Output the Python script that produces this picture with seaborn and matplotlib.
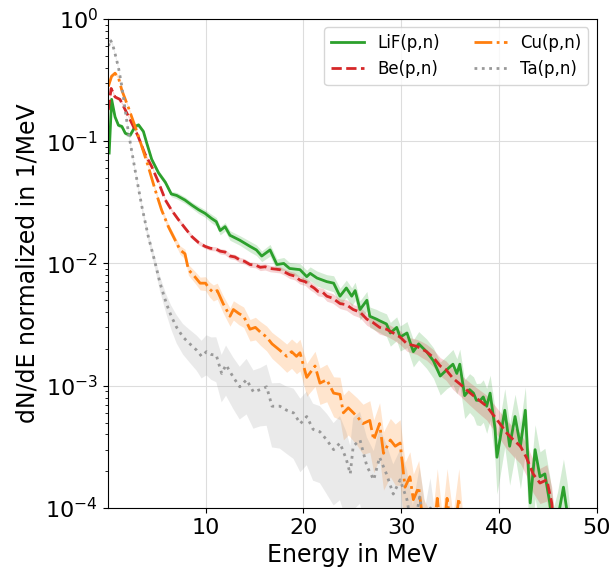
import numpy as np
import pandas as pd
import matplotlib
matplotlib.use("Agg")
import matplotlib.pyplot as plt
import seaborn as sns

# ---------------- data ----------------
lif_e = [0.15, 0.4, 0.75, 1.1, 1.45, 1.8, 2.3, 2.8, 3.15, 3.65, 4.0, 4.5, 5.2, 5.9, 6.5, 7.05,
         7.9, 8.6, 9.3, 9.95, 10.6, 11.1, 11.5, 12.0, 12.5, 13.5, 14.55, 15.2, 15.75, 16.6,
         17.3, 18.0, 18.6, 19.66, 20.35, 20.7, 21.4, 22.4, 23.1, 23.75, 24.4, 24.95, 25.3,
         25.8, 26.5, 26.8, 27.5, 27.8, 28.5, 28.9, 29.55, 29.9, 30.6, 31.25, 31.8, 32.6,
         33.3, 34.0, 34.66, 35.3, 35.7, 36.0, 36.5, 37.0, 37.4, 37.7, 38.1, 38.4, 38.75,
         39.1, 39.6, 39.8, 40.1, 40.6, 41.1, 41.65, 42.2, 42.7, 43.2, 43.7, 44.2, 44.7,
         45.2, 45.6, 46.0, 46.6, 47.0, 47.3]
lif_y = [0.08, 0.22, 0.158, 0.135, 0.132, 0.116, 0.112, 0.132, 0.136, 0.12, 0.096, 0.071,
         0.055, 0.046, 0.037, 0.036, 0.033, 0.030, 0.0275, 0.0257, 0.0234, 0.022, 0.0186,
         0.020, 0.017, 0.0155, 0.0138, 0.0129, 0.0115, 0.0129, 0.0098, 0.010, 0.0091, 0.0089,
         0.0078, 0.0083, 0.0076, 0.0071, 0.0069, 0.0054, 0.0063, 0.0054, 0.0060, 0.0042,
         0.0050, 0.0037, 0.0035, 0.0034, 0.0032, 0.0027, 0.0030, 0.0025, 0.0027, 0.0019,
         0.0022, 0.0019, 0.0016, 0.0012, 0.00135, 0.0015, 0.00126, 0.0015, 0.00083, 0.00093,
         0.00087, 0.00076, 0.00076, 0.00081, 0.00068, 0.00087, 0.00045, 0.00026, 0.00036,
         0.00063, 0.00032, 0.00056, 0.00032, 0.00063, 0.00011, 0.0003, 0.00018, 0.00019,
         0.00011, 0.00006, 0.00008, 0.000148, 0.00009, 0.00005]
lif_err = [0.05, 0.04, 0.04, 0.04, 0.04, 0.04, 0.04, 0.04, 0.04, 0.04, 0.04, 0.04,
           0.05, 0.05, 0.05, 0.06, 0.06, 0.06, 0.07, 0.07, 0.08, 0.08, 0.08, 0.08, 0.09,
           0.09, 0.10, 0.10, 0.10, 0.11, 0.11, 0.12, 0.12, 0.12, 0.13, 0.13, 0.14, 0.14,
           0.15, 0.16, 0.16, 0.17, 0.17, 0.18, 0.18, 0.19, 0.20, 0.20, 0.21, 0.22, 0.22,
           0.23, 0.24, 0.25, 0.26, 0.27, 0.28, 0.30, 0.30, 0.32, 0.32, 0.33, 0.35, 0.35,
           0.36, 0.37, 0.38, 0.38, 0.40, 0.40, 0.45, 0.50, 0.50, 0.50, 0.52, 0.52, 0.55,
           0.55, 0.60, 0.60, 0.60, 0.62, 0.65, 0.70, 0.70, 0.70, 0.75, 0.75]

be_e = [0.06, 0.35, 0.75, 1.25, 1.8, 2.45, 3.1, 3.8, 4.5, 5.2, 5.9, 6.5, 7.2, 7.9, 8.6, 9.3,
        9.95, 10.5, 11.0, 11.5, 12.0, 12.5, 13.0, 13.5, 14.0, 14.55, 15.1, 15.6, 16.1, 16.6,
        17.1, 17.6, 18.1, 18.6, 19.1, 19.66, 20.2, 20.7, 21.1, 21.5, 22.0, 22.4, 23.0, 23.75,
        24.4, 25.1, 25.8, 26.5, 27.1, 27.8, 28.5, 29.2, 29.9, 30.6, 31.1, 31.6, 32.1, 32.6,
        33.3, 34.0, 34.6, 35.3, 36.1, 37.0, 37.8, 38.75, 39.4, 40.1, 40.8, 41.5, 42.2, 42.8,
        43.5, 44.2, 44.9, 45.4, 45.8]
be_y = [0.18, 0.27, 0.23, 0.22, 0.18, 0.141, 0.11, 0.079, 0.062, 0.046, 0.033, 0.0275,
        0.023, 0.0195, 0.0166, 0.0148, 0.0138, 0.0133, 0.0132, 0.0126, 0.0124, 0.0115,
        0.0113, 0.0107, 0.0104, 0.0098, 0.0097, 0.0093, 0.0094, 0.0091, 0.0090, 0.0089,
        0.0085, 0.0081, 0.0079, 0.0073, 0.0071, 0.0066, 0.0063, 0.0059, 0.0058, 0.0054,
        0.0052, 0.0047, 0.0046, 0.0042, 0.0040, 0.0035, 0.0033, 0.0030, 0.0029, 0.0027,
        0.0025, 0.0022, 0.00215, 0.0021, 0.0020, 0.0019, 0.0017, 0.00145, 0.00135, 0.00115,
        0.00102, 0.00088, 0.00078, 0.00068, 0.00058, 0.00049, 0.00041, 0.00036, 0.00032,
        0.00026, 0.00019, 0.00016, 0.00017, 0.00011, 0.00005]
be_err = [0.04, 0.03, 0.03, 0.03, 0.03, 0.03, 0.03, 0.03, 0.03, 0.03, 0.03, 0.03, 0.04,
          0.04, 0.04, 0.04, 0.04, 0.04, 0.04, 0.05, 0.05, 0.05, 0.05, 0.05, 0.05, 0.05,
          0.05, 0.06, 0.06, 0.06, 0.06, 0.06, 0.06, 0.07, 0.07, 0.07, 0.07, 0.08, 0.08,
          0.08, 0.08, 0.09, 0.09, 0.09, 0.10, 0.10, 0.10, 0.11, 0.11, 0.12, 0.12, 0.12,
          0.13, 0.13, 0.14, 0.14, 0.15, 0.15, 0.16, 0.17, 0.18, 0.19, 0.20, 0.21, 0.22,
          0.23, 0.24, 0.25, 0.26, 0.27, 0.28, 0.29, 0.30, 0.32, 0.33, 0.35, 0.40]

cu_e = [0.06, 0.4, 0.75, 1.1, 1.45, 2.1, 2.8, 3.5, 4.15, 4.85, 5.5, 6.2, 6.9, 7.4, 7.9,
        8.25, 8.9, 9.45, 10.0, 10.4, 10.8, 11.2, 11.8, 12.5, 12.85, 13.4, 13.9, 14.55,
        15.1, 15.6, 16.25, 16.8, 17.6, 18.3, 18.8, 19.3, 19.66, 20.35, 21.2, 21.7, 22.4,
        23.1, 23.75, 24.1, 24.6, 25.5, 26.1, 26.8, 27.2, 27.8, 28.2, 28.9, 29.4, 29.9,
        30.4, 30.9, 31.25, 31.8, 32.3, 33.2, 33.7, 34.2, 34.7, 35.3, 35.9, 36.3]
cu_y = [0.28, 0.34, 0.36, 0.33, 0.26, 0.19, 0.132, 0.090, 0.062, 0.040, 0.0275, 0.020,
        0.0155, 0.0129, 0.012, 0.0089, 0.0078, 0.0069, 0.0069, 0.0062, 0.0058, 0.0060,
        0.0047, 0.0037, 0.0042, 0.0039, 0.0037, 0.0029, 0.0030, 0.00275, 0.0025, 0.0022,
        0.00195, 0.00174, 0.0019, 0.00174, 0.00186, 0.00117, 0.00145, 0.00105, 0.00112,
        0.00087, 0.00085, 0.0006, 0.00066, 0.00056, 0.00049, 0.00052, 0.00036, 0.00049,
        0.00028, 0.00036, 0.00032, 0.00034, 0.000148, 0.00018, 0.000117, 0.000148, 0.00007,
        0.00005, 0.00012, 0.00005, 0.00012, 0.00005, 0.00012, 0.00005]
cu_err = [0.03, 0.03, 0.03, 0.03, 0.03, 0.03, 0.03, 0.03, 0.04, 0.04, 0.05, 0.06, 0.07,
          0.08, 0.09, 0.10, 0.11, 0.12, 0.13, 0.14, 0.15, 0.15, 0.16, 0.17, 0.18, 0.19,
          0.19, 0.20, 0.21, 0.22, 0.23, 0.24, 0.25, 0.26, 0.27, 0.28, 0.29, 0.30, 0.32,
          0.33, 0.34, 0.36, 0.38, 0.40, 0.40, 0.42, 0.44, 0.45, 0.46, 0.48, 0.50, 0.50,
          0.52, 0.55, 0.60, 0.60, 0.62, 0.65, 0.70, 0.70, 0.75, 0.75, 0.75, 0.75, 0.75, 0.75]

ta_e = [0.1, 0.25, 0.5, 0.75, 1.1, 1.45, 2.1, 2.8, 3.5, 4.15, 4.8, 5.35, 6.0, 6.5, 7.05,
        7.7, 8.4, 9.1, 9.6, 10.1, 10.6, 11.1, 11.65, 12.1, 12.85, 13.5, 14.2, 14.9, 15.6,
        16.25, 16.8, 17.6, 18.3, 19.0, 19.7, 20.35, 21.0, 21.7, 22.4, 23.1, 23.75, 24.4,
        24.8, 25.1, 25.8, 26.5, 27.2, 27.8, 28.5, 29.2, 29.9, 30.6, 31.2, 31.9, 32.5,
        33.0, 33.5]
ta_y = [0.6, 0.68, 0.62, 0.52, 0.40, 0.28, 0.12, 0.058, 0.029, 0.0166, 0.0105, 0.0069,
        0.0047, 0.0037, 0.0030, 0.0025, 0.0022, 0.00195, 0.00174, 0.0019, 0.0018, 0.00178,
        0.00126, 0.00148, 0.00117, 0.00098, 0.00112, 0.00089, 0.00093, 0.00098, 0.00068,
        0.00068, 0.00063, 0.0006, 0.00049, 0.00056, 0.00044, 0.00042, 0.00036, 0.0003,
        0.00034, 0.00025, 0.00019, 0.00032, 0.00036, 0.00022, 0.00017, 0.00026, 0.00019,
        0.00013, 0.00017, 0.000117, 0.00006, 0.000123, 0.00006, 0.0001, 0.00005]
ta_err = [0.03, 0.03, 0.03, 0.03, 0.03, 0.03, 0.04, 0.05, 0.06, 0.08, 0.10, 0.14, 0.18,
          0.22, 0.26, 0.28, 0.30, 0.32, 0.34, 0.36, 0.38, 0.40, 0.42, 0.44, 0.45, 0.46,
          0.48, 0.50, 0.50, 0.52, 0.54, 0.55, 0.56, 0.58, 0.60, 0.60, 0.62, 0.62, 0.64,
          0.65, 0.66, 0.68, 0.70, 0.70, 0.70, 0.72, 0.72, 0.74, 0.75, 0.75, 0.75, 0.75,
          0.75, 0.75, 0.75, 0.75, 0.75]

labels = ["LiF(p,n)", "Be(p,n)", "Cu(p,n)", "Ta(p,n)"]
x_ticks = [10, 20, 30, 40, 50]

# ---------------- plotting ----------------
series = [
    (labels[0], lif_e, lif_y, lif_err, "#2ca02c", "-"),
    (labels[1], be_e, be_y, be_err, "#d62728", "--"),
    (labels[2], cu_e, cu_y, cu_err, "#ff7f0e", "-."),
    (labels[3], ta_e, ta_y, ta_err, "#999999", ":"),
]

fig, ax = plt.subplots(figsize=(6.12, 5.74), dpi=100)
fig.subplots_adjust(left=0.176, right=0.975, top=0.967, bottom=0.115)

for name, e, y, err, col, ls in series:
    df = pd.DataFrame({"E": e, "y": y, "err": err})
    ax.fill_between(df["E"], df["y"] * (1 - df["err"]), df["y"] * (1 + df["err"]),
                    color=col, alpha=0.2, linewidth=0)
    sns.lineplot(data=df, x="E", y="y", ax=ax, color=col, linestyle=ls,
                 linewidth=2, label=name, sort=False, estimator=None)

ax.set_yscale("log")
ax.set_xlim(0, 50)
ax.set_ylim(1e-4, 1)
ax.set_xticks(x_ticks)
ax.grid(True, which="major", color="#dddddd", linewidth=0.8)
ax.set_axisbelow(True)
ax.tick_params(axis="both", which="major", labelsize=16)
ax.set_xlabel("Energy in MeV", fontsize=17)
ax.set_ylabel("dN/dE normalized in 1/MeV", fontsize=17)
for s in ax.spines.values():
    s.set_color("black")

ax.legend(loc="upper right", ncol=2, fontsize=12, framealpha=0.8)

fig.savefig("out.png", dpi=100)
